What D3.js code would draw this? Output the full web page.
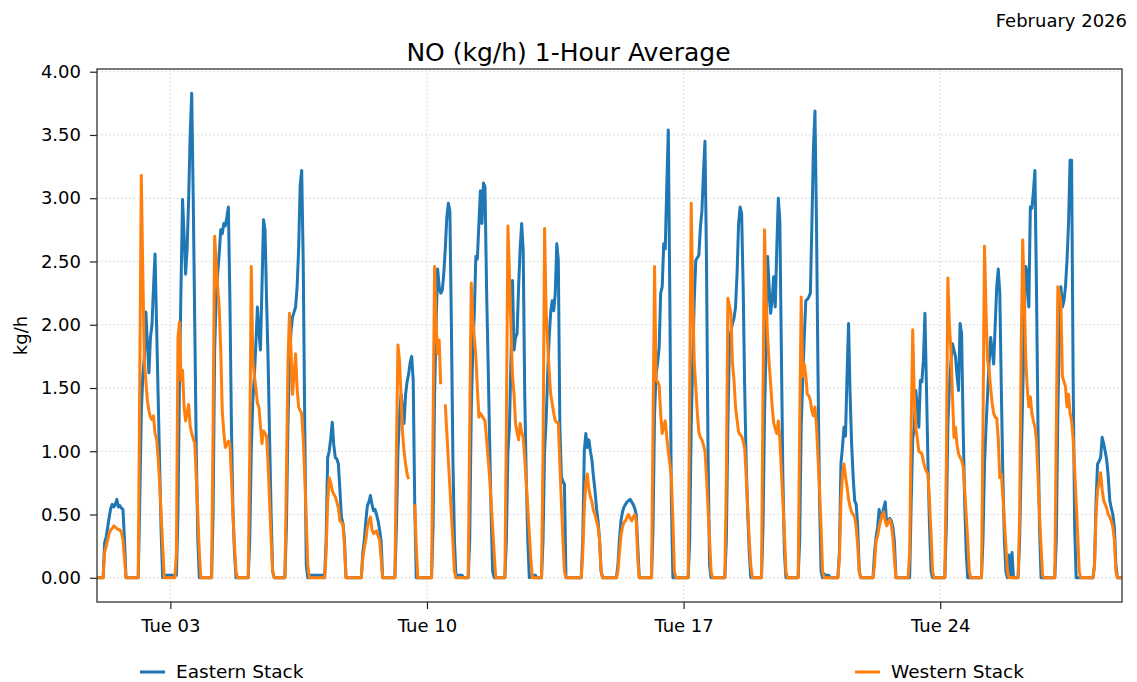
<!DOCTYPE html>
<html>
<head>
<meta charset="utf-8">
<script src="https://cdn.jsdelivr.net/npm/d3@7"></script>
<style>
  html, body { margin: 0; padding: 0; background: #ffffff; overflow: hidden; }
  #chart { width: 1137px; height: 682px; }
  text { font-family: "DejaVu Sans", sans-serif; fill: #000; }
</style>
</head>
<body>
<div id="chart"></div>
<script>
// hourly NO emissions (kg/h), one row per day of February 2026, hours 0..23
const eastern = [
  [0,0,0,0,0,0.28,0.32,0.4,0.48,0.55,0.58,0.56,0.58,0.62,0.56,0.57,0.55,0.54,0.3,0,0,0,0,0],
  [0,0,0,0,0.6,1.3,1.6,1.75,2.1,1.85,1.62,1.9,2.0,2.3,2.56,2.0,1.45,0.9,0.35,0,0.02,0.02,0.02,0.02],
  [0.02,0.02,0.02,0.02,0.02,0.5,1.56,2.3,2.99,2.7,2.4,2.6,3.0,3.5,3.83,3.0,2.0,1.0,0.3,0,0,0,0,0],
  [0,0,0,0,0.5,1.8,2.2,2.4,2.56,2.75,2.72,2.8,2.78,2.85,2.93,2.2,1.2,0.53,0.2,0,0,0,0,0],
  [0,0,0,0,0.3,1.0,1.4,1.59,1.85,2.14,1.95,1.8,2.3,2.83,2.75,2.2,1.72,1.1,0.5,0.05,0,0,0,0],
  [0,0,0,0,0.4,1.2,1.7,1.95,2.06,2.1,2.14,2.3,2.6,3.1,3.22,2.5,1.2,0.1,0,0,0.02,0.02,0.02,0.02],
  [0.02,0.02,0.02,0.02,0.02,0,0.3,0.95,1.0,1.1,1.23,1.05,0.95,0.94,0.9,0.7,0.48,0.43,0.3,0,0,0,0,0],
  [0,0,0,0,0,0,0.2,0.3,0.45,0.57,0.6,0.65,0.58,0.53,0.54,0.5,0.45,0.38,0.29,0,0,0,0,0],
  [0,0,0,0,0.4,1.0,1.27,1.45,1.35,1.22,1.45,1.55,1.61,1.7,1.75,1.56,0.58,0,0,0,0,0,0,0],
  [0,0,0,0,0.4,1.45,2.0,2.44,2.3,2.25,2.27,2.4,2.6,2.85,2.96,2.9,2.0,0.93,0.3,0,0.02,0.02,0.02,0.02],
  [0,0,0,0,0.3,1.32,1.8,2.09,2.54,2.52,2.8,3.06,2.8,3.12,3.09,2.3,1.72,1.1,0.5,0.05,0,0,0,0],
  [0,0,0,0,0.3,1.0,1.19,1.72,2.35,1.8,1.9,1.93,2.3,2.6,2.8,2.59,1.45,0.8,0.3,0,0.02,0.02,0.02,0.02],
  [0,0,0,0,0.3,1.0,1.24,1.6,1.9,2.1,2.19,2.11,2.25,2.64,2.51,1.2,0.8,0.76,0.74,0,0,0,0,0],
  [0,0,0,0,0,0,0.3,1.0,1.14,1.03,1.09,1.0,0.93,0.8,0.69,0.55,0.45,0.3,0.05,0,0,0,0,0],
  [0,0,0,0,0,0.1,0.3,0.45,0.52,0.56,0.58,0.6,0.61,0.62,0.6,0.58,0.55,0.5,0.25,0,0,0,0,0],
  [0,0,0,0,0.4,1.3,1.61,1.7,1.82,2.25,2.3,2.64,2.6,3.1,3.54,2.2,0.6,0,0,0,0,0,0,0],
  [0,0,0,0,0.3,1.2,1.72,2.2,2.51,2.53,2.55,2.77,2.9,3.2,3.45,2.5,1.0,0.1,0,0,0,0,0,0],
  [0,0,0,0,0.3,1.2,1.85,1.95,2.01,2.05,2.14,2.4,2.8,2.93,2.88,2.3,1.5,0.9,0.5,0.2,0,0,0,0],
  [0,0,0,0,0.4,1.3,1.82,2.54,2.3,2.09,2.2,2.38,2.14,2.6,3.0,2.83,1.8,0.8,0.2,0,0,0,0,0],
  [0,0,0,0,0.3,1.2,1.56,1.9,2.19,2.2,2.22,2.25,2.8,3.4,3.69,2.8,1.6,0.6,0.05,0,0.03,0.02,0.02,0.02],
  [0,0,0,0,0,0,0.2,0.9,1.03,1.19,1.12,1.6,2.01,1.45,1.06,0.8,0.61,0.58,0.4,0.05,0,0,0,0],
  [0,0,0,0,0,0.2,0.32,0.4,0.54,0.48,0.5,0.55,0.6,0.42,0.45,0.47,0.45,0.4,0.29,0,0,0,0,0],
  [0,0,0,0,0,0.6,1.1,1.19,1.48,1.35,1.19,1.56,1.55,1.72,2.09,1.5,0.9,0.4,0.05,0,0,0,0,0],
  [0,0,0,0,0.4,1.2,1.51,1.7,1.85,1.8,1.75,1.6,1.48,2.01,1.93,1.2,0.6,0.2,0,0,0,0,0,0],
  [0,0,0,0,0.3,0.9,1.2,1.45,1.7,1.9,1.8,1.69,2.0,2.3,2.44,2.25,1.5,0.8,0.3,0.05,0,0.18,0.02,0.2],
  [0,0,0,0,0.3,0.9,1.45,2.0,2.46,2.41,2.14,2.93,2.92,3.05,3.22,2.3,1.2,0.4,0,0,0,0,0,0],
  [0,0,0,0,0.3,1.3,1.9,2.3,2.14,2.19,2.3,2.51,2.8,3.3,3.3,1.6,0.4,0,0,0,0,0,0,0],
  [0,0,0,0,0,0.1,0.6,0.9,0.92,0.95,1.11,1.06,1.0,0.93,0.8,0.61,0.55,0.5,0.4,0.1,0,0,0,0]
];

const western = [
  [0,0,0,0,0,0.2,0.25,0.3,0.35,0.38,0.39,0.41,0.4,0.39,0.38,0.38,0.36,0.3,0.15,0,0,0,0,0],
  [0,0,0,0,1.6,3.18,2.4,1.72,1.55,1.4,1.32,1.27,1.25,1.28,1.14,1.1,0.95,0.75,0.5,0.25,0,0,0,0],
  [0,0,0,0,0.2,1.9,2.02,1.56,1.64,1.35,1.24,1.3,1.37,1.2,1.14,1.1,1.06,0.8,0.5,0.2,0,0,0,0],
  [0,0,0,0,1.2,2.7,2.5,2.3,2.14,1.8,1.32,1.15,1.03,1.05,1.08,1.06,0.8,0.5,0.25,0.05,0,0,0,0],
  [0,0,0,0,1.0,2.46,1.72,1.6,1.5,1.38,1.35,1.2,1.06,1.16,1.14,1.12,0.9,0.6,0.3,0.05,0,0,0,0],
  [0,0,0,0,0.8,1.7,2.09,1.8,1.45,1.6,1.77,1.5,1.35,1.32,1.3,1.1,0.8,0.45,0.1,0,0,0,0,0],
  [0,0,0,0,0,0,0.2,0.6,0.79,0.75,0.69,0.66,0.64,0.6,0.55,0.45,0.44,0.42,0.25,0,0,0,0,0],
  [0,0,0,0,0,0,0.15,0.24,0.3,0.4,0.45,0.48,0.38,0.35,0.36,0.37,0.33,0.3,0.15,0,0,0,0,0],
  [0,0,0,0,1.0,1.84,1.72,1.45,1.15,1.0,0.9,0.82,0.78,null,null,null,0.58,0.25,0,0,0,0,0,0],
  [0,0,0,0,1.2,2.46,2.0,1.77,1.88,1.53,null,null,1.37,1.15,0.93,0.72,0.5,0.28,0.05,0,0,0,0,0],
  [0,0,0,0,1.2,2.33,2.04,1.9,1.75,1.5,1.27,1.3,1.28,1.26,1.24,1.1,0.95,0.8,0.6,0.4,0.2,0,0,0],
  [0,0,0,0,1.2,2.78,2.4,1.98,1.6,1.45,1.22,1.15,1.09,1.22,1.15,1.11,0.95,0.75,0.55,0.35,0.15,0,0,0],
  [0,0,0,0,1.0,2.76,2.11,1.85,1.64,1.45,1.38,1.3,1.24,1.23,1.22,0.9,0.6,0.3,0.05,0,0,0,0,0],
  [0,0,0,0,0,0,0.2,0.55,0.75,0.82,0.7,0.64,0.6,0.53,0.5,0.45,0.4,0.3,0.05,0,0,0,0,0],
  [0,0,0,0,0,0.05,0.2,0.33,0.4,0.44,0.45,0.48,0.5,0.47,0.45,0.48,0.5,0.45,0.15,0,0,0,0,0],
  [0,0,0,0,1.2,2.46,1.56,1.55,1.52,1.3,1.14,1.2,1.24,1.11,1.0,0.9,0.8,0.45,0.05,0,0,0,0,0],
  [0,0,0,0,1.5,2.96,2.2,1.7,1.5,1.3,1.15,1.11,1.09,1.05,1.0,0.8,0.55,0.3,0.05,0,0,0,0,0],
  [0,0,0,0,0.8,2.21,2.15,2.09,1.7,1.56,1.35,1.25,1.15,1.13,1.12,1.08,1.02,0.8,0.55,0.3,0.1,0,0,0],
  [0,0,0,0,1.5,2.75,2.2,1.9,1.7,1.53,1.35,1.22,1.18,1.14,1.24,1.1,0.85,0.6,0.35,0.05,0,0,0,0],
  [0,0,0,0,1.2,2.22,1.59,1.69,1.6,1.45,1.44,1.4,1.32,1.28,1.35,1.2,0.95,0.7,0.4,0.05,0,0,0,0],
  [0,0,0,0,0,0,0.15,0.6,0.82,0.9,0.8,0.72,0.62,0.56,0.52,0.5,0.48,0.4,0.25,0.05,0,0,0,0],
  [0,0,0,0,0,0.1,0.29,0.33,0.4,0.45,0.5,0.52,0.45,0.41,0.44,0.46,0.42,0.32,0.15,0,0,0,0,0],
  [0,0,0,0,0.2,1.2,1.96,1.45,1.19,1.1,1.0,0.99,0.98,0.92,0.87,0.84,0.82,0.6,0.35,0.05,0,0,0,0],
  [0,0,0,0,0.9,2.37,2.0,1.8,1.45,1.11,1.19,1.05,0.98,0.95,0.93,0.88,0.7,0.5,0.3,0.05,0,0,0,0],
  [0,0,0,0,1.2,2.62,2.1,1.72,1.64,1.5,1.38,1.3,1.27,1.26,1.1,0.79,0.82,0.65,0.45,0.25,0.05,0,0,0],
  [0,0,0,0,0.5,1.8,2.67,2.25,1.72,1.5,1.35,1.43,1.3,1.24,1.19,1.09,0.8,0.5,0.25,0.02,0,0,0,0],
  [0,0,0,0,1.2,2.3,2.25,2.17,1.59,1.55,1.51,1.35,1.45,1.3,1.24,1.1,0.85,0.6,0.35,0.05,0,0,0,0],
  [0,0,0,0,0,0.1,0.5,0.69,0.75,0.83,0.7,0.61,0.58,0.55,0.5,0.48,0.45,0.4,0.3,0.05,0,0,0,0]
];

const seriesNames = ["Eastern Stack", "Western Stack"];
const seriesColors = ["#1f77b4", "#ff7f0e"];
const tickDays = [3, 10, 17, 24];
const yTicks = [0, 0.5, 1, 1.5, 2, 2.5, 3, 3.5, 4];
const titleText = "NO (kg/h) 1-Hour Average";
const monthLabel = "February 2026";

function toPoints(rows) {
  const points = [];
  rows.forEach((row, dayIndex) => {
    row.forEach((value, hour) => {
      points.push({ date: new Date(2026, 1, dayIndex + 1, hour), value });
    });
  });
  return points;
}

const width = 1137;
const height = 682;
const margin = { top: 69, right: 15, bottom: 80, left: 97 };
const innerWidth = width - margin.left - margin.right;
const innerHeight = height - margin.top - margin.bottom;

const svg = d3.select("#chart")
  .append("svg")
  .attr("width", width)
  .attr("height", height);

const chart = svg.append("g")
  .attr("transform", `translate(${margin.left},${margin.top})`);

const x = d3.scaleTime()
  .domain([new Date(2026, 1, 1, 0), new Date(2026, 1, 28, 23)])
  .range([0, innerWidth]);

// matplotlib style 5% padding around 0..max
const yMax = d3.max(eastern.flat().concat(western.flat()));
const pad = yMax * 0.05;
const y = d3.scaleLinear()
  .domain([-pad, yMax + pad])
  .range([innerHeight, 0]);

const tickDates = tickDays.map((d) => new Date(2026, 1, d, 0));

// grid
chart.append("g")
  .selectAll("line")
  .data(yTicks)
  .enter()
  .append("line")
  .attr("x1", 0)
  .attr("x2", innerWidth)
  .attr("y1", (d) => y(d))
  .attr("y2", (d) => y(d))
  .attr("stroke", "#d4d4d4")
  .attr("stroke-width", 0.8)
  .attr("stroke-dasharray", "2,2");

chart.append("g")
  .selectAll("line")
  .data(tickDates)
  .enter()
  .append("line")
  .attr("x1", (d) => x(d))
  .attr("x2", (d) => x(d))
  .attr("y1", 0)
  .attr("y2", innerHeight)
  .attr("stroke", "#d4d4d4")
  .attr("stroke-width", 0.8)
  .attr("stroke-dasharray", "2,2");

// series
const line = d3.line()
  .defined((d) => d.value !== null)
  .x((d) => x(d.date))
  .y((d) => y(d.value));

[eastern, western].forEach((rows, i) => {
  chart.append("path")
    .datum(toPoints(rows))
    .attr("d", line)
    .attr("fill", "none")
    .attr("stroke", seriesColors[i])
    .attr("stroke-width", 3)
    .attr("stroke-linejoin", "round");
});

// axes
chart.append("g")
  .attr("transform", `translate(0,${innerHeight})`)
  .call(d3.axisBottom(x)
    .tickValues(tickDates)
    .tickFormat(d3.timeFormat("%a %d"))
    .tickSize(7)
    .tickPadding(10))
  .call((g) => g.select(".domain").remove())
  .call((g) => g.selectAll(".tick line").attr("stroke", "#222").attr("stroke-width", 1.2))
  .call((g) => g.selectAll("text")
    .attr("font-family", "DejaVu Sans")
    .attr("font-size", 18)
    .attr("fill", "#111"));

chart.append("g")
  .call(d3.axisLeft(y)
    .tickValues(yTicks)
    .tickFormat(d3.format(".2f"))
    .tickSize(7)
    .tickPadding(9))
  .call((g) => g.select(".domain").remove())
  .call((g) => g.selectAll(".tick line").attr("stroke", "#222").attr("stroke-width", 1.2))
  .call((g) => g.selectAll("text")
    .attr("font-family", "DejaVu Sans")
    .attr("font-size", 18)
    .attr("fill", "#111"));

chart.append("rect")
  .attr("x", 0)
  .attr("y", 0)
  .attr("width", innerWidth)
  .attr("height", innerHeight)
  .attr("fill", "none")
  .attr("stroke", "#333")
  .attr("stroke-width", 1.3);

// labels
svg.append("text")
  .attr("x", width / 2)
  .attr("y", 61)
  .attr("text-anchor", "middle")
  .attr("font-size", 25)
  .text(titleText);

svg.append("text")
  .attr("x", 1127)
  .attr("y", 27)
  .attr("text-anchor", "end")
  .attr("font-size", 18)
  .text(monthLabel);

svg.append("text")
  .attr("transform", `translate(27,${margin.top + innerHeight / 2}) rotate(-90)`)
  .attr("text-anchor", "middle")
  .attr("font-size", 18)
  .text("kg/h");

// legend
const legendItems = [
  { x: 140, name: seriesNames[0], color: seriesColors[0] },
  { x: 855, name: seriesNames[1], color: seriesColors[1] }
];

const legend = svg.append("g")
  .selectAll("g")
  .data(legendItems)
  .enter()
  .append("g")
  .attr("transform", (d) => `translate(${d.x},672)`);

legend.append("line")
  .attr("x1", 0)
  .attr("x2", 25)
  .attr("stroke", (d) => d.color)
  .attr("stroke-width", 3);

legend.append("text")
  .attr("x", 36)
  .attr("dy", "0.35em")
  .attr("font-size", 18.5)
  .text((d) => d.name);
</script>
</body>
</html>
